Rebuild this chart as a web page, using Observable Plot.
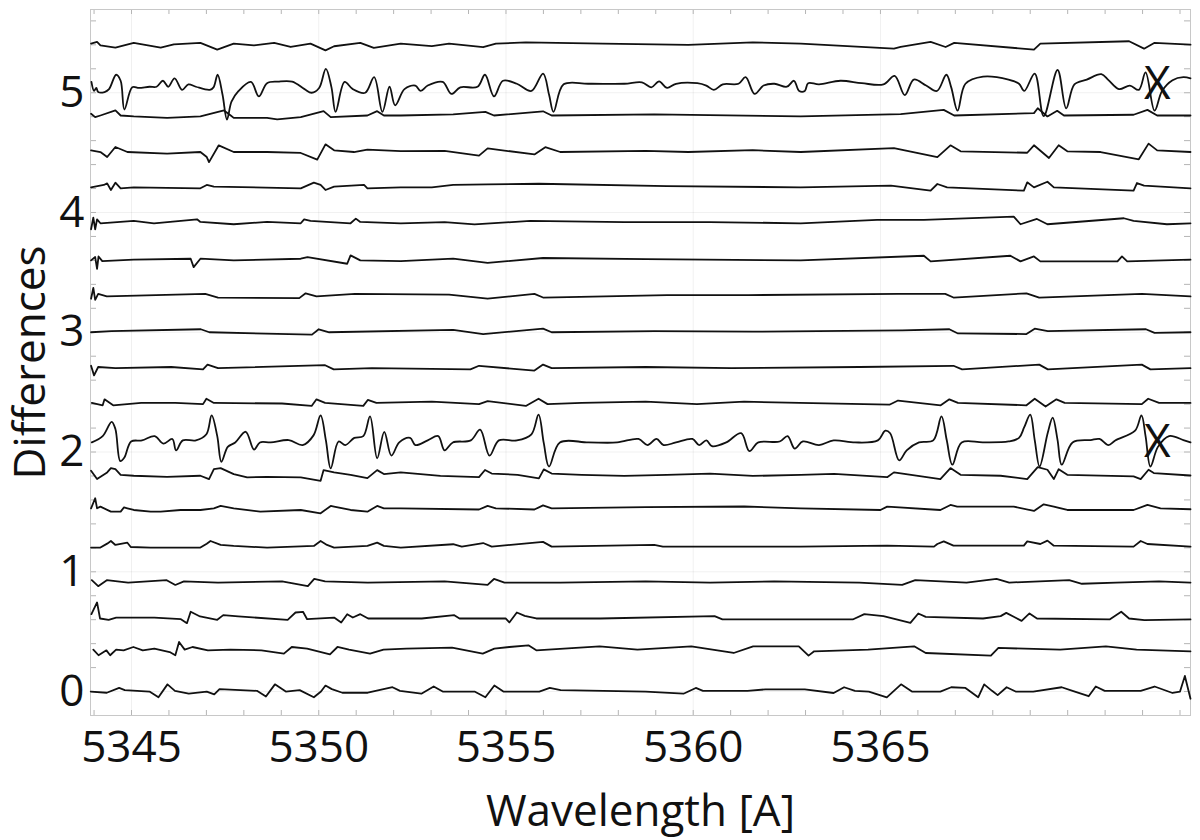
<!DOCTYPE html>
<html>
<head>
<meta charset="utf-8">
<script src="https://cdn.jsdelivr.net/npm/d3@7"></script>
<script src="https://cdn.jsdelivr.net/npm/@observablehq/plot@0.6"></script>
<style>
  html, body { margin: 0; padding: 0; background: #fff; }
  #chart { width: 1200px; height: 840px; }
</style>
</head>
<body>
<div id="chart"></div>
<script>
// ---- axis / tick values ----
const wavelengthDomain = [5343.905, 5373.28];
const differencesDomain = [-0.2, 5.695];
const xTickValues = [5345, 5350, 5355, 5360, 5365];
const yTickValues = [0, 1, 2, 3, 4, 5];
const xMinorTicks = [5344, 5345, 5346, 5347, 5348, 5349, 5350, 5351, 5352, 5353, 5354, 5355, 5356, 5357, 5358, 5359, 5360, 5361, 5362, 5363, 5364, 5365, 5366, 5367, 5368, 5369, 5370, 5371, 5372, 5373];
const yMinorTicks = [0, 0.2, 0.4, 0.6, 0.8, 1, 1.2, 1.4, 1.6, 1.8, 2, 2.2, 2.4, 2.6, 2.8, 3, 3.2, 3.4, 3.6, 3.8, 4, 4.2, 4.4, 4.6, 4.8, 5, 5.2, 5.4, 5.6];

// ---- vertical offset of each difference spectrum (bottom to top) ----
const offsets = [0.00, 0.35, 0.61, 0.91, 1.21, 1.53, 1.81, 2.08, 2.41, 2.70, 3.00, 3.30, 3.60, 3.91, 4.21, 4.505, 4.81, 5.07, 5.41];
const flaggedTraces = [7, 17];
const flagLabel = "X";

// ---- difference spectra: [wavelength Å, difference relative to offset] ----
const trace00 = [[5343.91,0],[5344.34,-0.01],[5344.67,0.03],[5344.82,0.012],[5345.48,0],[5345.72,-0.048],[5345.96,0.06],[5346.16,0.006],[5346.53,-0.018],[5347.01,0],[5347.21,-0.024],[5347.35,0.02],[5348.35,0.006],[5348.59,-0.042],[5348.83,0.06],[5349.12,0],[5349.49,0.012],[5349.87,-0.048],[5350.06,0],[5350.18,0.05],[5350.35,0.02],[5350.63,-0.01],[5351.31,-0.01],[5351.97,0.036],[5352.17,0.006],[5352.74,-0.018],[5353.07,0.042],[5353.31,0],[5354.16,0],[5354.45,-0.048],[5354.69,0.05],[5354.93,0],[5355.89,0],[5356.17,0.03],[5356.46,0.012],[5357.60,0.006],[5358.73,0],[5359.74,-0.018],[5360.07,0.03],[5360.26,0.006],[5361.45,0.006],[5361.93,0.018],[5362.98,0.018],[5363.75,-0.012],[5364.03,0.036],[5364.32,0.006],[5364.69,0],[5365.17,-0.048],[5365.55,0.06],[5365.84,0],[5366.60,0],[5366.89,0.036],[5367.27,0.03],[5367.61,-0.048],[5367.77,0.06],[5367.98,0.006],[5368.13,-0.03],[5368.37,0.036],[5368.61,0],[5369.08,0],[5369.84,0.036],[5370.13,0.006],[5370.56,-0.039],[5370.75,0.042],[5370.99,0.006],[5371.95,0.006],[5372.32,0.042],[5372.80,-0.012],[5373.00,0],[5373.13,0.13],[5373.28,-0.06]];
const trace01 = [[5343.98,0],[5344.12,-0.047],[5344.33,-0.006],[5344.43,-0.047],[5344.59,0],[5344.79,-0.006],[5345.05,0.022],[5345.30,-0.006],[5345.61,0.008],[5346.02,-0.02],[5346.17,-0.047],[5346.27,0.064],[5346.42,0],[5346.63,0.022],[5347.04,-0.006],[5347.64,0],[5348.47,-0.006],[5349.07,-0.033],[5349.28,0.022],[5349.69,0.008],[5350.30,-0.039],[5350.50,0.022],[5350.81,0],[5351.37,-0.033],[5351.73,0],[5352.34,0.008],[5353.56,0.017],[5354.38,-0.033],[5354.69,0.008],[5355.09,0.022],[5355.60,0.036],[5355.81,-0.006],[5357.50,0.028],[5358.51,0],[5359.95,0.028],[5361.08,-0.028],[5361.60,0.028],[5362.82,0.028],[5363.08,-0.05],[5363.23,-0.014],[5364.67,0],[5365.90,0.028],[5366.21,-0.028],[5367.95,-0.05],[5368.15,0.014],[5369.80,0],[5371.02,0.028],[5371.84,0],[5373.28,-0.014]];
const trace02 = [[5343.93,0.036],[5344.08,0.134],[5344.16,0],[5344.39,-0.011],[5344.59,0.008],[5345.61,0.008],[5346.32,-0.006],[5346.48,-0.039],[5346.58,0.056],[5346.83,0.017],[5347.29,-0.011],[5347.45,0.028],[5347.85,0.017],[5349.17,-0.011],[5349.38,0.05],[5349.58,0.056],[5349.69,-0.006],[5350.41,0.008],[5350.60,-0.033],[5350.76,0.036],[5350.91,0.008],[5351.11,0.036],[5351.32,0],[5352.75,0],[5353.62,0.028],[5353.76,0],[5354.99,0],[5355.09,-0.033],[5355.29,0.05],[5355.50,0.022],[5355.81,0],[5357.52,0],[5360.57,0.02],[5360.78,-0.008],[5364.26,-0.008],[5364.57,0.036],[5365.08,0.02],[5365.80,-0.036],[5366.01,0.042],[5366.21,0.014],[5367.74,0],[5368.21,0.02],[5368.36,0.047],[5368.56,0.014],[5368.77,-0.02],[5368.98,0.042],[5369.18,0],[5371.12,-0.008],[5371.43,0.056],[5371.64,0],[5372.05,-0.014],[5373.28,-0.008]];
const trace03 = [[5343.94,0.02],[5344.11,-0.03],[5344.34,0.02],[5344.91,0],[5345.94,0.02],[5346.17,-0.02],[5346.40,0.01],[5347.31,0],[5349.02,0.01],[5349.71,-0.03],[5349.88,0.03],[5350.17,0.01],[5351.31,0],[5353.36,0.01],[5354.51,-0.02],[5354.68,0.03],[5354.96,0],[5356.45,0],[5358.73,0.01],[5360.45,0],[5362.16,0.01],[5364.44,0],[5365.58,-0.02],[5365.93,0.02],[5367.30,0],[5368.10,0.03],[5368.44,0],[5370.04,0.02],[5370.38,-0.01],[5371.29,0],[5372.44,0.01],[5373.28,0]];
const trace04 = [[5343.92,-0.008],[5344.17,-0.008],[5344.35,0.025],[5344.45,0.047],[5344.57,0.014],[5344.89,0.033],[5344.98,-0.003],[5345.51,-0.008],[5346.84,-0.008],[5347.01,0.025],[5347.11,0.047],[5347.38,0.014],[5347.73,0.006],[5348.62,-0.008],[5349.87,0.006],[5350.05,0.047],[5350.22,0.014],[5350.41,-0.008],[5351.30,0.006],[5351.56,0.033],[5351.74,0.006],[5352.19,-0.008],[5353.59,0.02],[5353.82,0],[5354.39,0.03],[5354.62,0],[5355.99,0.04],[5356.22,0],[5358.96,0.015],[5359.19,0],[5362.87,0],[5365.18,0.008],[5366.43,0],[5366.52,0.022],[5366.69,0.044],[5366.95,0.008],[5368.83,0.008],[5368.92,0.044],[5369.27,0.022],[5369.46,0.05],[5369.63,0.008],[5371.76,0],[5371.95,0.047],[5372.13,0.022],[5373.28,0]];
const trace05 = [[5343.92,0],[5344.03,0.084],[5344.08,0],[5344.17,0.014],[5344.45,-0.028],[5344.71,-0.028],[5344.80,0.008],[5344.89,0],[5345.06,-0.014],[5345.51,-0.028],[5345.78,-0.028],[5346.31,-0.014],[5346.84,-0.014],[5347.20,0],[5347.38,0.02],[5347.73,0],[5348.44,-0.028],[5349.52,-0.014],[5350.05,-0.042],[5350.32,0.02],[5350.41,0.014],[5350.85,-0.014],[5351.30,-0.028],[5351.56,0.02],[5351.74,0],[5352.19,0],[5354.28,-0.01],[5354.51,0.02],[5354.73,0],[5355.76,-0.01],[5355.99,0.025],[5356.22,0],[5358.73,0.01],[5361.36,0.015],[5362.87,0],[5365.00,-0.014],[5365.18,0.014],[5366.60,-0.014],[5366.87,0.028],[5367.05,0.014],[5368.56,0.014],[5369.10,-0.022],[5369.36,0.033],[5369.63,0.014],[5369.99,-0.014],[5371.76,-0.014],[5372.13,0.028],[5372.48,0],[5373.28,-0.008]];
const trace06 = [[5343.92,0.033],[5344.08,-0.036],[5344.35,0.02],[5344.45,0.056],[5344.57,0.047],[5344.71,0],[5345.06,-0.008],[5345.95,-0.017],[5346.84,-0.008],[5347.07,-0.036],[5347.20,0.047],[5347.38,0.056],[5347.73,0.006],[5348.09,-0.022],[5348.62,-0.017],[5349.52,-0.022],[5350.05,-0.05],[5350.13,0.039],[5350.41,0.02],[5350.85,0],[5351.30,-0.028],[5351.56,0.039],[5351.74,0.006],[5352.19,0.02],[5353.25,-0.01],[5354.28,-0.02],[5354.44,0.04],[5354.62,0.01],[5355.31,0],[5355.88,-0.03],[5356.01,0.045],[5356.22,0.01],[5357.02,0],[5358.16,-0.01],[5359.30,0],[5360.45,0.01],[5361.59,-0.01],[5362.87,0],[5363.76,0.008],[5365.18,-0.02],[5365.36,0.02],[5366.60,-0.036],[5366.87,0.056],[5367.14,0],[5368.21,-0.008],[5368.92,-0.036],[5369.20,0.064],[5369.46,0.042],[5369.63,-0.036],[5369.76,0.047],[5369.99,0],[5371.76,-0.014],[5371.95,-0.036],[5372.16,0.042],[5372.30,0.014],[5373.28,-0.006]];
const trace07 = [[5343.94,0.0],[5344.23,0.053],[5344.47,0.172],[5344.57,0.112],[5344.70,-0.156],[5344.81,-0.126],[5344.99,0.008],[5345.28,0.017],[5345.62,0.053],[5345.85,-0.01],[5346.09,0.029],[5346.19,-0.066],[5346.37,0.017],[5346.72,0.017],[5347.00,0.068],[5347.14,0.226],[5347.29,0.053],[5347.40,-0.162],[5347.57,-0.037],[5347.77,0.0],[5348.05,0.089],[5348.27,-0.06],[5348.43,0.0],[5348.72,0.0],[5349.20,0.02],[5349.57,-0.022],[5349.86,0.059],[5350.05,0.226],[5350.19,0.02],[5350.32,-0.216],[5350.53,0.008],[5350.71,-0.022],[5350.95,0.038],[5351.19,0.053],[5351.37,0.217],[5351.56,-0.132],[5351.75,0.089],[5351.94,-0.11],[5352.15,0.0],[5352.44,0.038],[5352.58,-0.022],[5352.91,0.017],[5353.19,0.053],[5353.36,-0.066],[5353.58,0.0],[5354.06,0.017],[5354.31,0.107],[5354.56,-0.11],[5354.81,0.017],[5355.29,0.017],[5355.68,0.068],[5355.87,0.232],[5356.01,-0.006],[5356.15,-0.201],[5356.44,0.0],[5357.20,0.0],[5357.97,0.0],[5358.54,0.029],[5358.78,-0.022],[5359.02,0.029],[5359.21,-0.022],[5359.54,0.0],[5359.98,0.029],[5360.16,-0.022],[5360.35,0.017],[5360.50,-0.031],[5360.88,0.0],[5361.28,0.077],[5361.50,-0.072],[5361.74,0.0],[5362.31,0.008],[5362.52,0.053],[5362.71,-0.051],[5362.93,0.008],[5363.36,-0.022],[5363.75,0.017],[5364.32,0.0],[5364.93,0.017],[5365.13,0.098],[5365.26,0.077],[5365.50,-0.15],[5365.70,-0.066],[5366.03,0.0],[5366.41,0.017],[5366.63,0.217],[5366.77,0.02],[5366.92,-0.186],[5367.17,0.0],[5367.74,0.0],[5368.42,0.008],[5368.70,0.038],[5368.84,0.127],[5369.00,0.232],[5369.12,0.02],[5369.25,-0.201],[5369.47,0.083],[5369.60,0.208],[5369.73,0.02],[5369.84,-0.186],[5370.13,0.0],[5370.61,0.02],[5370.85,0.029],[5371.09,-0.022],[5371.27,0.017],[5371.80,0.098],[5371.97,0.226],[5372.08,0.053],[5372.21,-0.201],[5372.41,-0.037],[5372.71,0.053],[5373.09,0.02],[5373.28,0.0]];
const trace08 = [[5343.94,0],[5344.23,-0.02],[5344.28,0.03],[5344.51,-0.02],[5345.26,0],[5346.17,0],[5346.91,-0.01],[5347.00,0.035],[5347.20,0],[5349.02,-0.005],[5349.81,-0.025],[5349.94,0.03],[5350.17,0],[5351.19,-0.025],[5351.31,0.025],[5351.54,0],[5353.02,0.01],[5354.28,-0.01],[5354.51,0.015],[5355.53,-0.025],[5355.87,0.035],[5356.11,-0.01],[5357.02,0],[5358.73,0.01],[5360.10,-0.01],[5361.36,0.01],[5362.84,0],[5365.24,-0.015],[5365.47,0.02],[5366.61,-0.02],[5366.84,0.03],[5367.07,0],[5368.90,-0.02],[5369.12,0.035],[5369.41,-0.03],[5369.70,0.03],[5369.92,0],[5371.98,-0.01],[5372.15,0.035],[5372.44,0],[5373.28,0]];
const trace09 = [[5343.92,0.02],[5344.00,-0.06],[5344.11,0.01],[5344.57,0],[5346.06,0.01],[5346.91,-0.01],[5347.03,0.03],[5347.31,0],[5350.17,0.025],[5350.40,-0.01],[5351.42,0],[5354.05,-0.01],[5354.28,0.02],[5355.76,-0.02],[5355.99,0.03],[5356.22,0],[5358.73,0.01],[5361.02,0],[5364.44,0.01],[5366.95,0.02],[5367.18,-0.01],[5369.24,0.03],[5369.47,-0.01],[5371.98,0.03],[5372.21,-0.01],[5373.28,0]];
const trace10 = [[5343.92,0],[5344.46,0.01],[5346.85,0.025],[5347.08,0],[5349.82,-0.02],[5350.00,0.025],[5350.28,0],[5353.59,0.02],[5354.39,-0.015],[5355.99,0.03],[5356.22,0],[5358.96,0.01],[5361.59,0.005],[5365.58,0.015],[5366.84,0.025],[5367.07,-0.01],[5368.90,-0.015],[5369.12,0.03],[5369.47,0.01],[5372.09,0.025],[5372.32,-0.005],[5373.28,0]];
const trace11 = [[5343.92,-0.02],[5343.98,0.07],[5344.03,-0.03],[5344.11,0.02],[5344.34,0],[5346.97,0.02],[5347.31,-0.01],[5349.48,-0.015],[5349.65,0.025],[5349.94,0],[5350.97,0.02],[5353.48,0.015],[5354.51,-0.02],[5355.76,0.02],[5355.99,-0.01],[5359.30,0.01],[5361.47,0.01],[5365.47,0.02],[5366.73,0.02],[5366.95,-0.01],[5368.90,0.025],[5369.24,-0.01],[5371.98,0.02],[5373.28,0]];
const trace12 = [[5343.92,0],[5344.03,0.028],[5344.08,-0.07],[5344.12,0.033],[5344.22,-0.006],[5345.06,0.006],[5346.58,0.014],[5346.66,-0.056],[5346.84,0.014],[5347.73,0],[5349.52,0.014],[5349.70,0.028],[5350.76,-0.028],[5350.85,0.042],[5351.11,0],[5352.19,-0.006],[5353.59,0.015],[5354.51,-0.02],[5355.99,0.02],[5358.73,0.01],[5362.87,0],[5366.16,0.039],[5366.34,-0.008],[5368.47,0.039],[5368.74,-0.008],[5369.10,0.033],[5369.27,-0.008],[5371.33,-0.008],[5371.45,0.033],[5371.59,-0.008],[5373.28,0.006]];
const trace13 = [[5343.92,-0.05],[5343.98,0.047],[5344.03,-0.05],[5344.08,0.033],[5344.17,0],[5345.06,0.02],[5345.60,0],[5346.75,0.033],[5346.84,0.011],[5347.73,-0.008],[5348.62,0.011],[5349.52,0],[5349.61,0.033],[5349.78,0.02],[5350.85,0],[5350.99,0.039],[5351.11,0.011],[5352.19,0],[5353.36,0.01],[5354.16,-0.01],[5355.65,0.02],[5358.16,0.01],[5360.45,0.01],[5362.87,0],[5364.91,0.028],[5366.16,0.028],[5368.56,0.056],[5368.74,-0.008],[5369.18,0.036],[5369.46,-0.008],[5371.50,0.042],[5371.76,0.02],[5372.65,-0.008],[5373.28,0]];
const trace14 = [[5343.92,0],[5344.26,0.02],[5344.35,0.033],[5344.45,-0.022],[5344.57,0.039],[5344.71,-0.008],[5345.06,0],[5346.84,-0.008],[5347.01,0.02],[5347.20,0.006],[5349.52,-0.008],[5349.87,0.039],[5350.05,0.02],[5350.18,-0.022],[5350.41,0.006],[5351.21,0.02],[5351.30,-0.008],[5352.19,0],[5353.02,0],[5353.59,0.02],[5354.51,0.025],[5355.88,0.03],[5359.30,0.01],[5362.87,0],[5365.28,0.014],[5366.34,-0.028],[5366.52,0.028],[5366.78,0],[5368.83,-0.028],[5368.92,0.042],[5369.10,0],[5369.46,0.047],[5369.63,0],[5371.76,-0.028],[5371.85,0.036],[5372.04,0.014],[5373.28,-0.008]];
const trace15 = [[5343.92,0.014],[5344.17,0],[5344.35,-0.042],[5344.57,0.042],[5344.89,0],[5345.95,-0.014],[5346.84,0],[5347.01,-0.042],[5347.07,-0.084],[5347.33,0.056],[5347.73,0],[5348.62,0],[5349.52,-0.008],[5349.96,-0.064],[5350.18,0.064],[5350.41,0.014],[5350.94,0],[5351.30,0.02],[5352.19,0.008],[5353.36,0.01],[5354.28,-0.03],[5354.51,0.03],[5355.76,-0.02],[5356.05,0.04],[5356.45,0],[5358.73,0.01],[5359.87,0],[5361.59,0.015],[5362.87,0],[5365.36,0.033],[5366.52,-0.042],[5366.87,0.056],[5367.14,0.006],[5368.92,-0.006],[5369.10,0.056],[5369.50,-0.05],[5369.76,0.056],[5369.99,0.006],[5370.88,0],[5371.90,-0.061],[5372.16,0.07],[5372.39,0.014],[5373.28,0]];
const trace16 = [[5343.92,0.014],[5344.03,-0.014],[5344.17,0],[5344.57,0.042],[5344.71,0],[5345.06,-0.008],[5345.95,-0.02],[5346.84,-0.008],[5347.47,0.042],[5347.65,0],[5347.73,-0.02],[5348.62,-0.02],[5348.89,-0.033],[5349.52,-0.014],[5350.13,0.036],[5350.32,-0.014],[5351.30,0],[5351.56,0.036],[5351.74,0],[5352.19,0],[5353.59,0.01],[5354.45,0.03],[5354.68,0],[5355.99,0.035],[5356.22,0],[5358.96,0.01],[5362.87,-0.008],[5365.54,0.011],[5366.69,0.047],[5366.97,0],[5369.10,0.02],[5369.20,0.06],[5369.46,-0.008],[5369.72,0.039],[5369.90,0],[5371.76,0.006],[5372.13,0.047],[5372.39,0],[5373.28,0]];
const trace17 = [[5343.93,0.02],[5344.00,-0.055],[5344.06,-0.03],[5344.11,-0.064],[5344.28,-0.064],[5344.40,-0.04],[5344.59,0.08],[5344.71,0.03],[5344.81,-0.21],[5345.02,-0.025],[5345.20,-0.03],[5345.48,-0.02],[5345.67,-0.02],[5345.84,0.03],[5345.98,-0.02],[5346.15,0.05],[5346.35,-0.046],[5346.52,0.0],[5346.72,-0.02],[5347.09,-0.046],[5347.19,-0.025],[5347.30,0.08],[5347.43,-0.085],[5347.55,-0.294],[5347.67,-0.145],[5347.86,-0.055],[5348.19,0.02],[5348.40,-0.10],[5348.62,0.01],[5348.91,0.023],[5349.29,0.023],[5349.62,-0.04],[5349.81,-0.07],[5350.01,-0.03],[5350.19,0.13],[5350.34,-0.025],[5350.45,-0.23],[5350.69,0.02],[5350.91,-0.04],[5351.24,-0.07],[5351.48,0.06],[5351.70,-0.23],[5351.89,-0.02],[5352.04,-0.175],[5352.29,-0.04],[5352.58,-0.01],[5352.72,-0.055],[5352.91,-0.01],[5353.31,0.02],[5353.54,-0.08],[5353.78,-0.025],[5354.24,-0.02],[5354.44,0.08],[5354.68,-0.10],[5354.92,0.03],[5355.29,0.005],[5355.68,-0.055],[5355.99,0.09],[5356.15,-0.085],[5356.27,-0.23],[5356.54,0.0],[5357.20,0.005],[5358.16,0.005],[5358.63,0.017],[5358.88,-0.025],[5359.09,0.025],[5359.30,-0.03],[5359.54,0.005],[5360.11,0.01],[5360.35,-0.01],[5360.55,-0.046],[5360.79,0.0],[5361.21,0.005],[5361.40,0.06],[5361.64,-0.08],[5361.88,-0.01],[5362.17,0.005],[5362.50,-0.02],[5362.69,0.03],[5362.83,-0.055],[5362.98,-0.055],[5363.07,0.01],[5363.36,0.0],[5363.93,0.03],[5364.50,0.01],[5365.08,0.0],[5365.38,0.07],[5365.65,-0.09],[5365.89,0.04],[5366.22,-0.01],[5366.51,-0.055],[5366.76,0.08],[5366.89,-0.025],[5367.06,-0.22],[5367.27,0.005],[5367.74,0.065],[5368.42,0.04],[5368.70,0.005],[5368.84,-0.055],[5369.12,0.09],[5369.36,-0.265],[5369.73,0.12],[5369.96,-0.20],[5370.18,0.0],[5370.51,0.04],[5370.90,0.085],[5371.09,0.035],[5371.37,-0.04],[5371.66,-0.01],[5371.90,-0.046],[5372.08,0.10],[5372.32,-0.22],[5372.52,-0.055],[5372.80,0.035],[5373.09,0.06],[5373.28,0.05]];
const trace18 = [[5343.92,0],[5344.08,0.014],[5344.17,-0.014],[5344.57,-0.033],[5345.06,0.006],[5345.78,-0.033],[5346.13,-0.006],[5346.84,0.006],[5347.29,-0.05],[5347.73,0],[5348.27,-0.014],[5348.81,0.006],[5349.25,-0.028],[5349.78,0],[5350.18,-0.056],[5350.41,-0.022],[5351.11,0.006],[5351.47,-0.036],[5352.19,0],[5353.02,-0.02],[5353.48,0],[5354.39,-0.03],[5354.73,0],[5355.53,0.01],[5357.59,0],[5359.87,-0.01],[5361.59,0.01],[5362.87,0],[5365.36,-0.042],[5365.54,-0.028],[5366.34,0.014],[5366.74,-0.028],[5366.97,0.006],[5369.10,-0.05],[5369.27,0],[5371.64,0.02],[5372.04,-0.042],[5372.31,0.006],[5373.28,-0.008]];

const traces = [trace00, trace01, trace02, trace03, trace04, trace05, trace06, trace07, trace08, trace09, trace10, trace11, trace12, trace13, trace14, trace15, trace16, trace17, trace18];

// ---- table for Plot ----
const rows = traces.flatMap((tr, i) => tr.map(([wl, d]) => ({trace: i, flagged: flaggedTraces.includes(i), wavelength: wl, difference: offsets[i] + d})));
const noisyRows = rows.filter(r => !r.flagged);
const flaggedRows = rows.filter(r => r.flagged);
const flagRows = flaggedTraces.map(i => ({label: flagLabel, difference: offsets[i]}));

const FONT = "'Open Sans', 'DejaVu Sans', sans-serif";

const chart = Plot.plot({
  width: 1200,
  height: 840,
  marginLeft: 90,
  marginRight: 10,
  marginTop: 9,
  marginBottom: 125,
  style: {fontFamily: FONT, fontSize: "44px", color: "#111", background: "#fff", overflow: "visible"},
  x: {domain: wavelengthDomain},
  y: {domain: differencesDomain},
  marks: [
    Plot.gridX(xTickValues, {stroke: "#000", strokeOpacity: 0.06}),
    Plot.gridY(yTickValues, {stroke: "#000", strokeOpacity: 0.06}),
    Plot.tickX(xMinorTicks, {insetTop: 701, stroke: "#b5b5b5"}),
    Plot.tickX(xMinorTicks, {insetBottom: 701, stroke: "#b5b5b5"}),
    Plot.tickY(yMinorTicks, {insetRight: 1094, stroke: "#b5b5b5"}),
    Plot.tickY(yMinorTicks, {insetLeft: 1094, stroke: "#b5b5b5"}),
    Plot.frame({stroke: "#c8c8c8"}),
    Plot.axisX(xTickValues, {tickSize: 0, tickPadding: 15, fontSize: 44, fontFamily: FONT, tickFormat: d => String(d), label: null}),
    Plot.axisX({tickSize: 0, ticks: [], label: "Wavelength [A]", labelAnchor: "center", labelArrow: "none", labelOffset: 110, fontSize: 44, fontFamily: FONT}),
    Plot.axisY(yTickValues, {tickSize: 0, tickPadding: 6, fontSize: 44, fontFamily: FONT, tickFormat: d => String(d), label: null}),
    Plot.axisY({tickSize: 0, ticks: [], label: "Differences", labelAnchor: "center", labelArrow: "none", labelOffset: 77, fontSize: 44, fontFamily: FONT}),
    Plot.line(noisyRows, {x: "wavelength", y: "difference", z: "trace", stroke: "#111", strokeWidth: 1.8, curve: "linear"}),
    Plot.line(flaggedRows, {x: "wavelength", y: "difference", z: "trace", stroke: "#111", strokeWidth: 1.8, curve: "catmull-rom"}),
    Plot.text(flagRows, {y: "difference", text: "label", frameAnchor: "right", dx: -20, fontSize: 46, fontFamily: FONT, fill: "#111"})
  ]
});
document.getElementById("chart").appendChild(chart);
</script>
</body>
</html>
